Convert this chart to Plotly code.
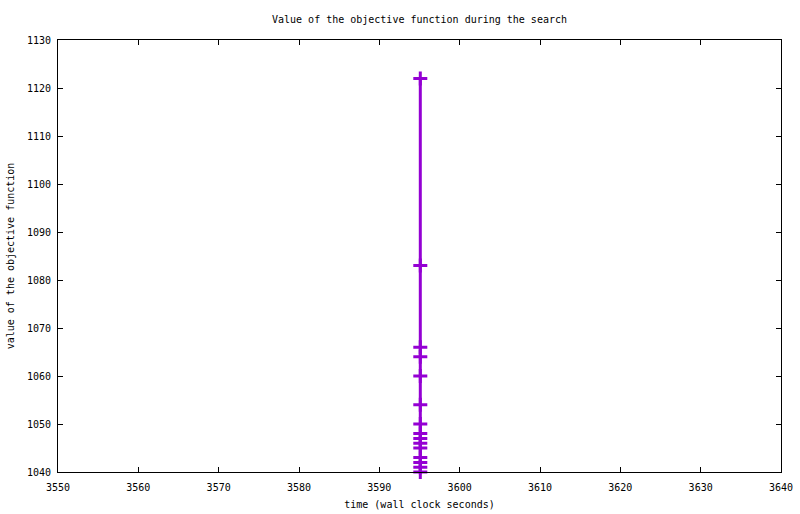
import plotly.graph_objects as go

# wall clock time (s) and objective value for each improvement found
times = [3595.1] * 15
objective = [1122, 1083, 1066, 1064, 1060, 1054, 1050, 1048,
             1047, 1046, 1045, 1043, 1042, 1041, 1040]

x_ticks = list(range(3550, 3641, 10))
y_ticks = list(range(1040, 1131, 10))

font = dict(family="DejaVu Sans Mono", size=10, color="black")

fig = go.Figure()
fig.add_trace(go.Scatter(
    x=times, y=objective, mode="lines+markers",
    line=dict(color="#9400D3", width=3),
    marker=dict(symbol="cross-thin", size=10, line=dict(color="#9400D3", width=3)),
    showlegend=False,
    cliponaxis=False,
))

axis_style = dict(
    showline=True, linecolor="black", linewidth=1, mirror="ticks",
    ticks="inside", ticklen=5, tickcolor="black", tickwidth=1,
    showgrid=False, zeroline=False, tickfont=font, automargin=False,
)

fig.update_layout(
    width=800, height=514,
    paper_bgcolor="white", plot_bgcolor="white",
    margin=dict(l=58, r=19, t=40, b=42),
    font=font,
    title=dict(text="Value of the objective function during the search",
               x=0.5, xref="paper", xanchor="center",
               y=1 - 19 / 514, yanchor="middle",
               font=font, automargin=False),
    xaxis=dict(range=[3550, 3640], tickvals=x_ticks,
               title=dict(text="time (wall clock seconds)", font=font, standoff=8),
               ticklabelstandoff=6, **axis_style),
    yaxis=dict(range=[1040, 1130], tickvals=y_ticks,
               title=dict(text="value of the objective function", font=font, standoff=10),
               ticklabelstandoff=4, **axis_style),
)

# drop the default page margin so the figure sits at the window's corner
fig.write_html("out.html", config={"displayModeBar": False},
               post_script="document.body.style.margin='0px';")
